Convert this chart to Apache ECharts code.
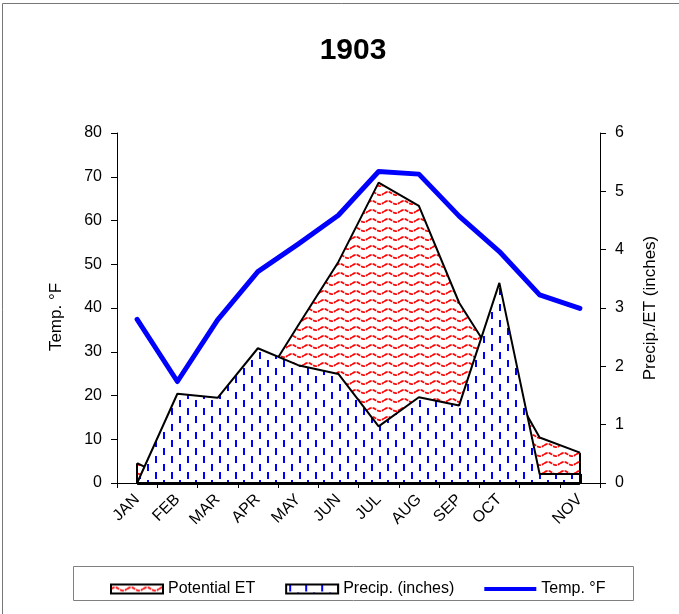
<!DOCTYPE html>
<html>
<head>
<meta charset="utf-8">
<script src="https://cdn.jsdelivr.net/npm/echarts@6/dist/echarts.min.js"></script>
<style>
html,body{margin:0;padding:0;background:#fff;}
#chart{width:679px;height:614px;}
</style>
</head>
<body>
<div id="chart"></div>
<script>
// ---- data ----
const months = ['JAN','FEB','MAR','APR','MAY','JUN','JUL','AUG','SEP','OCT','','NOV'];
const tempF = [37.4, 23.2, 37.3, 48.3, 54.6, 61.2, 71.2, 70.6, 61.0, 52.9, 43.0, 39.9];
const precip = [0.0, 1.53, 1.46, 2.31, 2.02, 1.87, 0.97, 1.47, 1.33, 3.43, 0.155, 0.155];
const potET = [0.34, 0.0, 0.5, 1.6, 2.7, 3.79, 5.15, 4.75, 3.09, 2.0, 0.78, 0.52];
const tempTicks = {min: 0, max: 80, interval: 10};
const precipTicks = {min: 0, max: 6, interval: 1};
const titleText = '1903';

const FONT = '"Liberation Sans", Arial, sans-serif';

function redWave() {
  const c = document.createElement('canvas');
  c.width = 16; c.height = 9;
  const g = c.getContext('2d');
  g.fillStyle = '#fff'; g.fillRect(0, 0, 16, 9);
  g.strokeStyle = '#ff0000'; g.lineWidth = 1.7;
  g.setLineDash([4, 1]);
  g.beginPath();
  for (let x = 0; x <= 16; x += 0.5) {
    const y = 4.5 - 1.6 * Math.sin(2 * Math.PI * x / 16);
    if (x === 0) g.moveTo(x, y); else g.lineTo(x, y);
  }
  g.stroke();
  return c;
}
function blueDash() {
  const c = document.createElement('canvas');
  c.width = 16; c.height = 16;
  const g = c.getContext('2d');
  g.fillStyle = '#fff'; g.fillRect(0, 0, 16, 16);
  g.fillStyle = '#0000ff';
  g.fillRect(3, 0, 2, 7);
  g.fillRect(11, 8, 2, 7);
  return c;
}
const etPattern = {image: redWave(), repeat: 'repeat'};
const prPattern = {image: blueDash(), repeat: 'repeat'};

const chart = echarts.init(document.getElementById('chart'), null, {renderer: 'canvas'});
const option = {
  backgroundColor: '#fff',
  animation: false,
  title: {
    text: titleText, left: 348, top: 31, textAlign: 'center',
    textStyle: {fontFamily: FONT, fontSize: 30, fontWeight: 'bold', color: '#000'}
  },
  grid: {left: 117, right: 79, top: 133, bottom: 131, containLabel: false, outerBoundsMode: 'none'},
  legend: {
    left: 105, top: 576, itemGap: 30, itemWidth: 52, itemHeight: 9,
    textStyle: {fontFamily: FONT, fontSize: 16, color: '#000'},
    data: [
      {name: 'Potential ET', icon: 'rect', itemStyle: {color: etPattern, borderColor: '#000', borderWidth: 2}},
      {name: 'Precip. (inches)', icon: 'rect', itemStyle: {color: prPattern, borderColor: '#000', borderWidth: 2}},
      {name: 'Temp. °F', icon: 'path://M0,0H100V8H0Z', itemStyle: {color: '#0000ff', borderWidth: 0}}
    ]
  },
  graphic: [
    {type: 'rect', shape: {x: 2.5, y: 3.5, width: 720, height: 720}, style: {fill: null, stroke: '#777', lineWidth: 1}, silent: true, z: -10},
    {type: 'rect', shape: {x: 73.5, y: 566.5, width: 560, height: 34}, style: {fill: null, stroke: '#808080', lineWidth: 1}, silent: true}
  ],
  xAxis: {
    type: 'category', data: months, boundaryGap: true,
    axisLine: {show: true, lineStyle: {color: '#000', width: 1}},
    axisTick: {show: true, alignWithLabel: false, interval: 0, length: 5, lineStyle: {color: '#000'}},
    axisLabel: {interval: 0, rotate: 45, margin: 14, fontFamily: FONT, fontSize: 16, color: '#000'},
    splitLine: {show: false}
  },
  yAxis: [
    {
      type: 'value', position: 'left', min: tempTicks.min, max: tempTicks.max, interval: tempTicks.interval,
      name: 'Temp. °F', nameLocation: 'middle', nameGap: 52, nameRotate: 90,
      nameTextStyle: {fontFamily: FONT, fontSize: 17, color: '#000', padding: [0, 18, 0, 0]},
      axisLine: {show: true, lineStyle: {color: '#000', width: 1}},
      axisTick: {show: true, inside: false, length: 6, lineStyle: {color: '#000'}},
      axisLabel: {margin: 15, fontFamily: FONT, fontSize: 16, color: '#000'},
      splitLine: {show: false}
    },
    {
      type: 'value', position: 'right', min: precipTicks.min, max: precipTicks.max, interval: precipTicks.interval,
      name: 'Precip./ET (inches)', nameLocation: 'middle', nameGap: 42, nameRotate: 90,
      nameTextStyle: {fontFamily: FONT, fontSize: 17, color: '#000'},
      axisLine: {show: true, lineStyle: {color: '#000', width: 1}},
      axisTick: {show: true, inside: false, length: 6, lineStyle: {color: '#000'}},
      axisLabel: {margin: 15, fontFamily: FONT, fontSize: 16, color: '#000'},
      splitLine: {show: false}
    }
  ],
  series: [
    {
      name: 'Potential ET', type: 'line', yAxisIndex: 1, data: potET,
      symbol: 'none', z: 2,
      color: '#000',
      lineStyle: {color: '#000', width: 2},
      areaStyle: {color: etPattern, opacity: 1},
      markLine: {
        silent: true, symbol: 'none', label: {show: false},
        lineStyle: {color: '#000', width: 2, type: 'solid'},
        data: [
          [{coord: [months[0], 0]}, {coord: [months[0], potET[0]]}],
          [{coord: [months[11], 0]}, {coord: [months[11], potET[11]]}]
        ]
      }
    },
    {
      name: 'Precip. (inches)', type: 'line', yAxisIndex: 1, data: precip,
      symbol: 'none', z: 3,
      color: '#000',
      lineStyle: {color: '#000', width: 2},
      areaStyle: {color: prPattern, opacity: 1},
      markLine: {
        silent: true, symbol: 'none', label: {show: false},
        lineStyle: {color: '#000', width: 3, type: 'solid'},
        data: [
          [{coord: [months[0], 0]}, {coord: [months[11], 0]}],
          [{coord: [months[11], 0]}, {coord: [months[11], precip[11]]}]
        ]
      }
    },
    {
      name: 'Temp. °F', type: 'line', yAxisIndex: 0, data: tempF,
      symbol: 'none', z: 4, color: '#0000ff',
      lineStyle: {color: '#0000ff', width: 5, cap: 'round', join: 'round'}
    }
  ]
};
chart.setOption(option);
</script>
</body>
</html>
